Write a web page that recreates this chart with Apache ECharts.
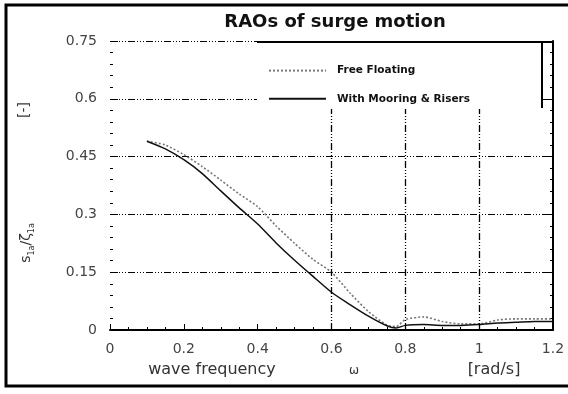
<!DOCTYPE html>
<html>
<head>
<meta charset="utf-8">
<script src="https://cdn.jsdelivr.net/npm/echarts@6/dist/echarts.min.js"></script>
<style>html,body{margin:0;padding:0;background:#fff;}#c{width:568px;height:394px;}</style>
</head>
<body>
<div id="c"></div>
<script>
const freq = [0.1, 0.15, 0.2, 0.25, 0.3, 0.35, 0.4, 0.45, 0.5, 0.55, 0.6, 0.65, 0.7, 0.75, 0.775, 0.8, 0.85, 0.9, 0.95, 1.0, 1.05, 1.1, 1.15, 1.2];
const freeFloating = [0.49, 0.48, 0.455, 0.424, 0.389, 0.353, 0.32, 0.27, 0.225, 0.183, 0.15, 0.096, 0.048, 0.013, 0.009, 0.027, 0.034, 0.022, 0.016, 0.016, 0.026, 0.029, 0.029, 0.029];
const withMooring = [0.49, 0.47, 0.442, 0.406, 0.361, 0.317, 0.275, 0.226, 0.181, 0.139, 0.098, 0.066, 0.036, 0.011, 0.005, 0.012, 0.014, 0.012, 0.012, 0.014, 0.018, 0.02, 0.022, 0.022];
const seriesNames = ['Free Floating', 'With Mooring & Risers'];
const xTickLabels = ['0', '0.2', '0.4', '0.6', '0.8', '1', '1.2'];
const yTickLabels = ['0', '0.15', '0.3', '0.45', '0.6', '0.75'];
const vGridValues = [0.6, 0.8, 1.0];

const FONT = 'DejaVu Sans';
const dashDot = [7, 2, 1, 2, 1, 2, 1, 2];
const pairs = (ys) => freq.map((x, i) => [x, ys[i]]);

const chart = echarts.init(document.getElementById('c'), null, {renderer: 'canvas'});
chart.setOption({
  animation: false,
  backgroundColor: '#fff',
  title: {
    text: 'RAOs of surge motion',
    left: 330, top: 8, textAlign: 'center',
    textStyle: {fontFamily: FONT, fontWeight: 'bold', fontSize: 18, color: '#111'}
  },
  grid: {left: 110, right: 15, top: 41, bottom: 64, containLabel: false},
  legend: {
    data: seriesNames,
    orient: 'vertical', left: 268, top: 65, padding: 0,
    zlevel: 1, z: 10,
    itemWidth: 57, itemHeight: 14, itemGap: 17,
    selectedMode: false,
    itemStyle: {opacity: 0},
    textStyle: {fontFamily: FONT, fontWeight: 'bold', fontSize: 10.5, color: '#111', padding: [0, 0, 0, 6]}
  },
  xAxis: [{
    type: 'value', min: 0, max: 1.2, interval: 0.2, position: 'bottom',
    axisLine: {show: true, lineStyle: {color: '#000', width: 2}},
    axisTick: {show: true, inside: true, length: 6, lineStyle: {color: '#000'}},
    minorTick: {show: true, splitNumber: 4, length: 3, lineStyle: {color: '#000'}},
    splitLine: {show: false},
    axisLabel: {
      margin: 12, fontFamily: FONT, fontSize: 14, color: '#444',
      formatter: (v) => xTickLabels[Math.round(v / 0.2)]
    }
  }],
  yAxis: [{
    type: 'value', min: 0, max: 0.75, interval: 0.15, position: 'left',
    axisLine: {show: false},
    axisTick: {show: true, inside: true, length: 8, lineStyle: {color: '#000'}},
    minorTick: {show: true, splitNumber: 5, length: 3, lineStyle: {color: '#000'}},
    splitLine: {show: true, lineStyle: {color: '#000', width: 1.2, type: dashDot}},
    axisLabel: {
      margin: 13, fontFamily: FONT, fontSize: 14, color: '#444',
      formatter: (v) => yTickLabels[Math.round(v / 0.15)]
    }
  }, {
    type: 'value', min: 0, max: 0.75, interval: 0.15, position: 'right',
    axisLine: {show: true, lineStyle: {color: '#000', width: 2}},
    axisTick: {show: true, inside: true, length: 6, lineStyle: {color: '#000'}},
    minorTick: {show: true, splitNumber: 5, length: 3, lineStyle: {color: '#000'}},
    splitLine: {show: false},
    axisLabel: {show: false}
  }],
  series: [{
    name: seriesNames[0], type: 'line', data: pairs(freeFloating),
    symbol: 'none', smooth: 0.25,
    lineStyle: {color: '#777', width: 1.6, type: [2, 2]},
    itemStyle: {color: '#777'},
    markLine: {
      silent: true, symbol: ['none', 'none'], label: {show: false},
      lineStyle: {color: '#000', width: 1.3, type: dashDot},
      data: vGridValues.map(v => ({xAxis: v}))
    }
  }, {
    name: seriesNames[1], type: 'line', data: pairs(withMooring),
    symbol: 'none', smooth: 0.25,
    lineStyle: {color: '#111', width: 1.5, type: 'solid'},
    itemStyle: {color: '#111'}
  }],
  graphic: [
    {type: 'rect', zlevel: 1, z: 1, silent: true, shape: {x: 257, y: 43, width: 285, height: 66}, style: {fill: '#ffffff', stroke: null}},
    {type: 'polyline', zlevel: 1, z: 5, silent: true, shape: {points: [[257, 42], [553, 42]]}, style: {stroke: '#000', lineWidth: 2, fill: null}},
    {type: 'polyline', zlevel: 1, z: 5, silent: true, shape: {points: [[542, 42], [542, 108]]}, style: {stroke: '#000', lineWidth: 2, fill: null}},
    {type: 'polyline', zlevel: 1, z: 10, silent: true, shape: {points: [[575, 5], [6, 5], [6, 386], [575, 386]]}, style: {stroke: '#000', lineWidth: 3, fill: null}},
    {type: 'text', z: 5, silent: true, x: 212, y: 370, style: {text: 'wave frequency', textAlign: 'center', textVerticalAlign: 'middle', fontFamily: FONT, fontSize: 16, fill: '#333'}},
    {type: 'text', z: 5, silent: true, x: 354, y: 371, style: {text: 'ω', textAlign: 'center', textVerticalAlign: 'middle', fontFamily: FONT, fontSize: 12, fill: '#333'}},
    {type: 'text', z: 5, silent: true, x: 494, y: 370, style: {text: '[rad/s]', textAlign: 'center', textVerticalAlign: 'middle', fontFamily: FONT, fontSize: 16, fill: '#333'}},
    {type: 'text', z: 5, silent: true, x: 24, y: 110, rotation: Math.PI / 2, style: {text: '[-]', textAlign: 'center', textVerticalAlign: 'middle', fontFamily: FONT, fontSize: 14, fill: '#333'}},
    {type: 'text', z: 5, silent: true, x: 26, y: 243, rotation: Math.PI / 2, style: {
      text: '{b|s}{s|1a}{b|/ζ}{s|1a}', textAlign: 'center', textVerticalAlign: 'middle', fill: '#333',
      rich: {
        b: {fontFamily: FONT, fontSize: 14, fill: '#333', verticalAlign: 'middle', lineHeight: 20},
        s: {fontFamily: FONT, fontSize: 8, fill: '#333', verticalAlign: 'bottom', lineHeight: 20}
      }
    }}
  ]
});
</script>
</body>
</html>
